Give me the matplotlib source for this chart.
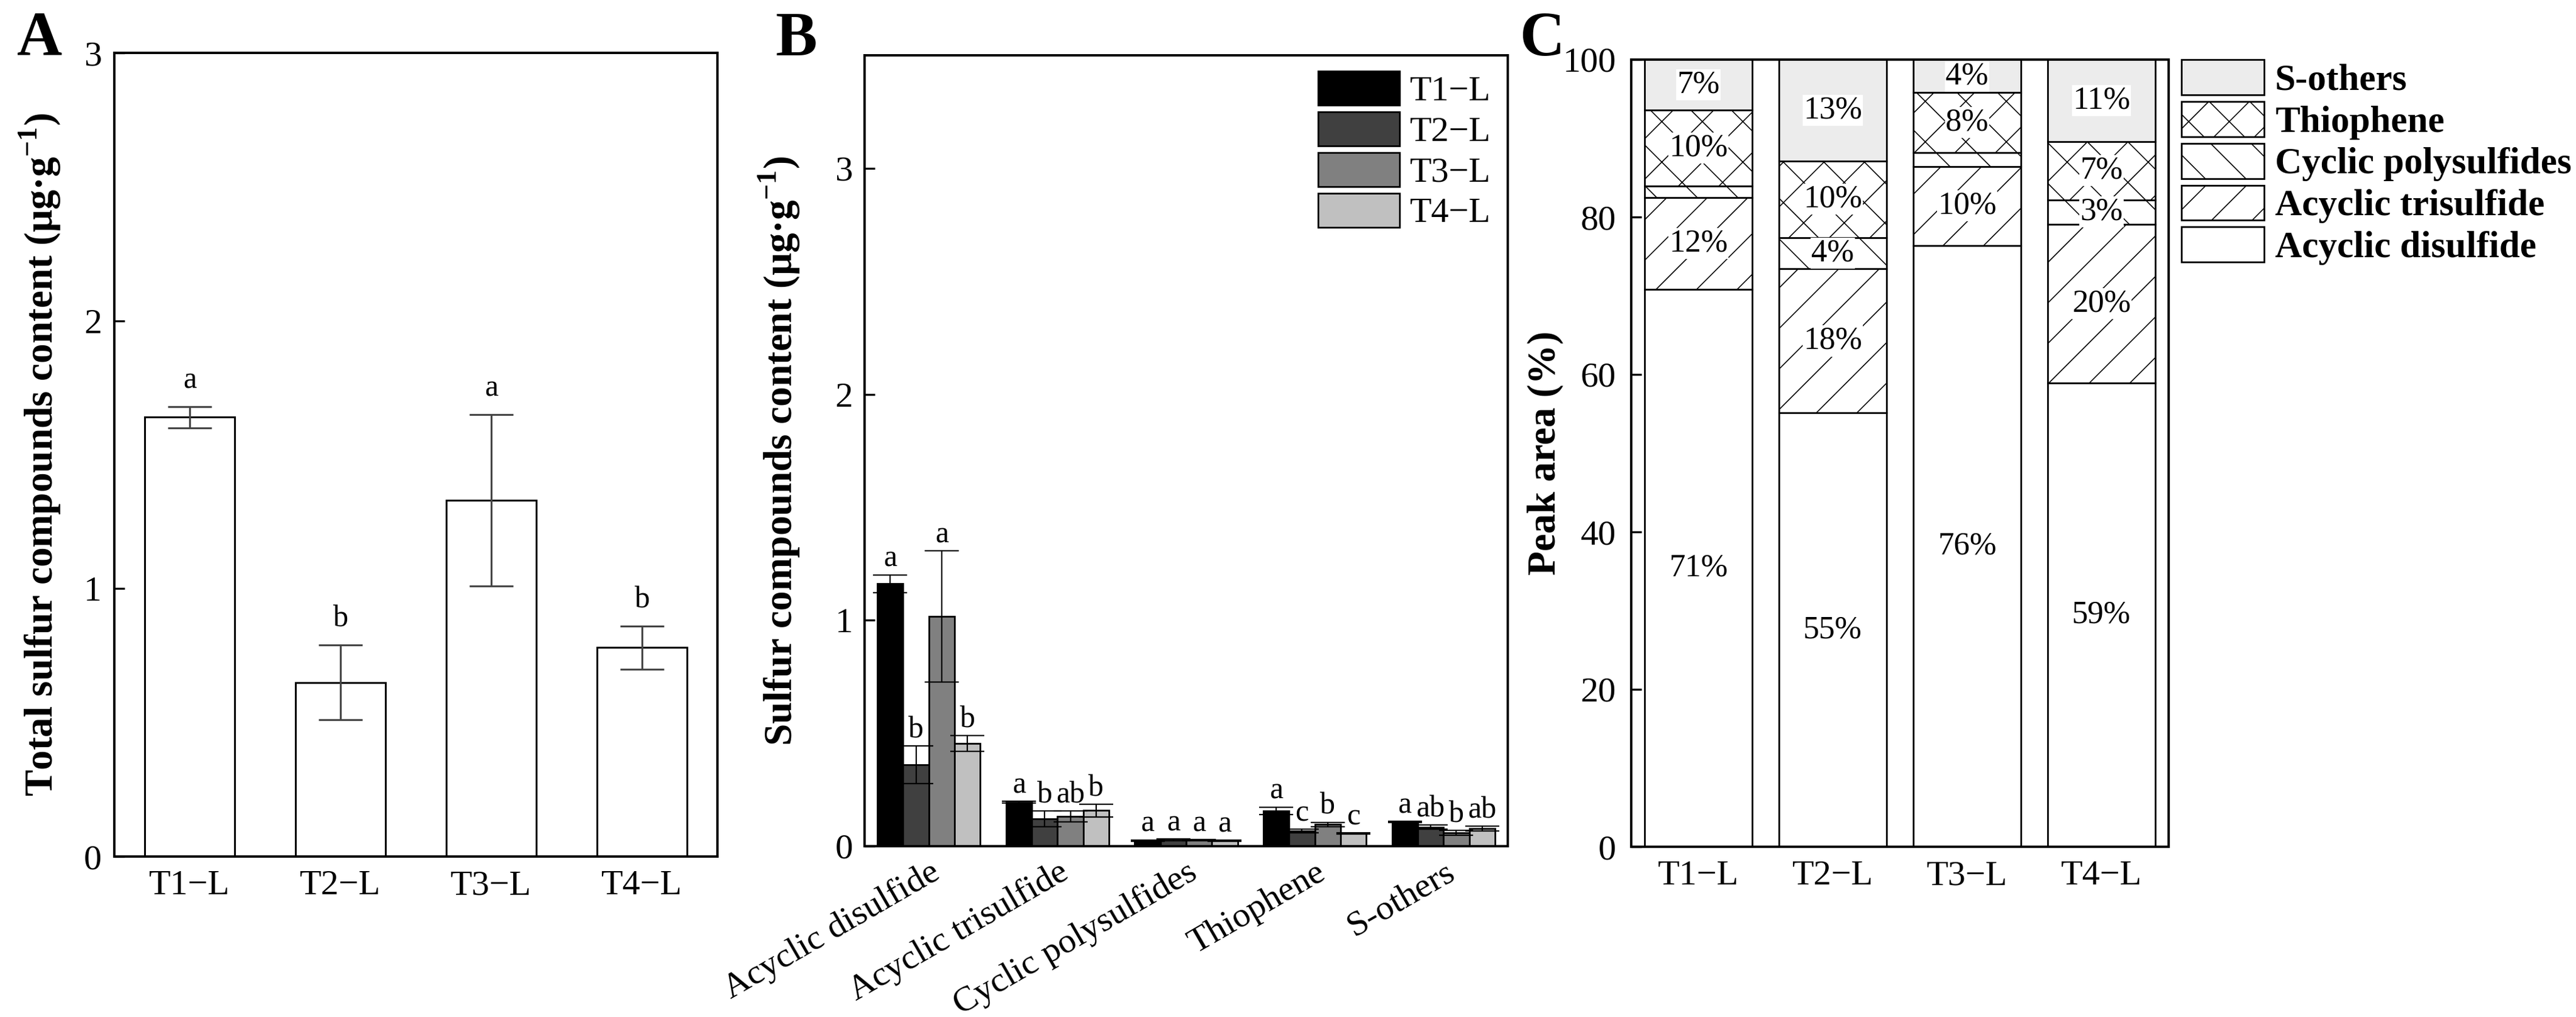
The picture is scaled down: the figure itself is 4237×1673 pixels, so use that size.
import matplotlib
matplotlib.use('Agg')
import matplotlib.pyplot as plt
import matplotlib.transforms as mtransforms
import numpy as np

plt.rcParams['font.family'] = ['Liberation Serif', 'DejaVu Serif']
plt.rcParams['mathtext.fontset'] = 'custom'
plt.rcParams['mathtext.rm'] = 'Liberation Serif'
plt.rcParams['mathtext.bf'] = 'Liberation Serif:bold'
plt.rcParams['hatch.linewidth'] = 0.6
plt.rcParams['axes.linewidth'] = 1.4

# --- dane ---
grupy = ['T1\u2212L', 'T2\u2212L', 'T3\u2212L', 'T4\u2212L']

# panel A: suma zwiazkow siarki
suma_srednia = [1.64, 0.65, 1.33, 0.78]
suma_blad = [0.04, 0.14, 0.32, 0.08]
suma_litery = ['a', 'b', 'a', 'b']

# panel B: poszczegolne grupy zwiazkow
zwiazki = ['Acyclic disulfide', 'Acyclic trisulfide', 'Cyclic polysulfides', 'Thiophene', 'S-others']
t1_srednia = [1.161, 0.194, 0.025, 0.156, 0.107]
t2_srednia = [0.360, 0.121, 0.028, 0.067, 0.084]
t3_srednia = [1.017, 0.132, 0.027, 0.096, 0.059]
t4_srednia = [0.455, 0.158, 0.024, 0.056, 0.078]
t1_blad = [0.040, 0.004, 0.003, 0.017, 0.003]
t2_blad = [0.083, 0.034, 0.003, 0.008, 0.010]
t3_blad = [0.290, 0.024, 0.003, 0.010, 0.010]
t4_blad = [0.035, 0.028, 0.003, 0.003, 0.010]
t1_litery = ['a', 'a', 'a', 'a', 'a']
t2_litery = ['b', 'b', 'a', 'c', 'ab']
t3_litery = ['a', 'ab', 'a', 'b', 'b']
t4_litery = ['b', 'b', 'a', 'c', 'ab']

# panel C: udzial powierzchni pikow (%)
disulfide_pct = [70.8, 55.1, 76.4, 58.9]
trisulfide_pct = [11.7, 18.3, 10.0, 20.2]
polysulfide_pct = [1.4, 4.0, 1.8, 3.1]
thiophene_pct = [9.7, 9.7, 7.6, 7.4]
others_pct = [6.4, 12.9, 4.2, 10.4]
disulfide_etyk = ['71%', '55%', '76%', '59%']
trisulfide_etyk = ['12%', '18%', '10%', '20%']
polysulfide_etyk = ['', '4%', '', '3%']
thiophene_etyk = ['10%', '10%', '8%', '7%']
others_etyk = ['7%', '13%', '4%', '11%']

W, H, DPI = 4237, 1673, 200
fig = plt.figure(figsize=(W / DPI, H / DPI), dpi=DPI)

ylabel_fs = 23.5
tick_fs = 21


def osie(ax):
    ax.tick_params(axis='y', direction='in', length=6, width=1.2, labelsize=tick_fs)
    ax.tick_params(axis='x', length=0, labelsize=tick_fs)


# ---------- A ----------
axA = fig.add_axes([188 / W, 1 - 1409 / H, (1180 - 188) / W, (1409 - 87) / H])
x = np.arange(len(grupy))
axA.bar(x, suma_srednia, 0.6, color='white', edgecolor='black', linewidth=1.1, zorder=2)
axA.errorbar(x, suma_srednia, yerr=suma_blad, fmt='none', ecolor='#444444',
             elinewidth=1.1, capsize=13, capthick=1.1, zorder=3)
for xi, m, e, l in zip(x, suma_srednia, suma_blad, suma_litery):
    axA.annotate(l, (xi, m + e), xytext=(0, 7), textcoords='offset points',
                 ha='center', va='bottom', fontsize=18)
axA.set_xlim(-0.5, 3.5)
axA.set_ylim(0, 3)
axA.set_yticks([0, 1, 2, 3])
axA.set_xticks(x)
axA.set_xticklabels(grupy)
osie(axA)
axA.tick_params(axis='y', pad=7.5)
axA.tick_params(axis='x', pad=8)
axA.set_ylabel(r'Total sulfur compounds content (μg·g$^{\mathbf{-1}}$)',
               fontsize=ylabel_fs, fontweight='bold')
axA.yaxis.set_label_coords(-0.085, 0.5)

# ---------- B ----------
axB = fig.add_axes([1422 / W, 1 - 1392 / H, (2480 - 1422) / W, (1392 - 91) / H])
xb = np.arange(len(zwiazki))
serie = [(t1_srednia, t1_blad, t1_litery, '#000000'),
         (t2_srednia, t2_blad, t2_litery, '#404040'),
         (t3_srednia, t3_blad, t3_litery, '#808080'),
         (t4_srednia, t4_blad, t4_litery, '#c0c0c0')]
szer = 0.2
for i, (sr, bl, lit, kolor) in enumerate(serie):
    pos = xb + (i - 1.5) * szer
    axB.bar(pos, sr, szer, color=kolor, edgecolor='black', linewidth=1.0,
            label=grupy[i], zorder=2)
    axB.errorbar(pos, sr, yerr=bl, fmt='none', ecolor='black',
                 elinewidth=0.8, capsize=10, capthick=0.8, zorder=3)
    for p, m, e, l in zip(pos, sr, bl, lit):
        axB.annotate(l, (p, m + e), xytext=(0, 1), textcoords='offset points',
                     ha='center', va='bottom', fontsize=18)
axB.set_xlim(-0.5, 4.5)
axB.set_ylim(0, 3.5)
axB.set_yticks([0, 1, 2, 3])
axB.set_xticks(xb)
axB.set_xticklabels(zwiazki, rotation=30, ha='right')
osie(axB)
axB.tick_params(axis='y', pad=7)
axB.tick_params(axis='x', pad=6)
przesun = mtransforms.ScaledTranslation(27 / DPI, 0, fig.dpi_scale_trans)
for lab in axB.get_xticklabels():
    lab.set_transform(lab.get_transform() + przesun)
axB.set_ylabel(r'Sulfur compounds content (μg·g$^{\mathbf{-1}}$)',
               fontsize=ylabel_fs, fontweight='bold')
axB.yaxis.set_label_coords(-0.096, 0.5)
axB.legend(loc='upper right', bbox_to_anchor=(0.9735, 0.98), frameon=False,
           borderpad=0, borderaxespad=0, handlelength=2.3, handleheight=1.1,
           labelspacing=0.12, handletextpad=0.28, fontsize=tick_fs)

# ---------- C ----------
axC = fig.add_axes([2683 / W, 1 - 1393 / H, (3567 - 2683) / W, (1393 - 98) / H])
xc = np.arange(len(grupy))
warstwy = [('Acyclic disulfide', disulfide_pct, disulfide_etyk, 'white', ''),
           ('Acyclic trisulfide', trisulfide_pct, trisulfide_etyk, 'white', '/'),
           ('Cyclic polysulfides', polysulfide_pct, polysulfide_etyk, 'white', '\\'),
           ('Thiophene', thiophene_pct, thiophene_etyk, 'white', 'x'),
           ('S-others', others_pct, others_etyk, '#ececec', '')]
dol = np.zeros(len(grupy))
uchwyty = []
for nazwa, wart, etyk, kolor, kresk in warstwy:
    wart = np.array(wart)
    b = axC.bar(xc, wart, 0.8, bottom=dol, color=kolor, edgecolor='black',
                linewidth=1.0, hatch=kresk, label=nazwa, zorder=2)
    uchwyty.append(b)
    for xi, d, v, t in zip(xc, dol, wart, etyk):
        if t:
            axC.text(xi, d + v / 2, t, ha='center', va='center', fontsize=19, zorder=4,
                     bbox=dict(facecolor='white', edgecolor='none', pad=0.5))
    dol = dol + wart
axC.set_xlim(-0.5, 3.5)
axC.set_ylim(0, 100)
axC.set_yticks([0, 20, 40, 60, 80, 100])
axC.set_xticks(xc)
axC.set_xticklabels(grupy)
osie(axC)
axC.tick_params(axis='y', pad=9)
axC.tick_params(axis='x', pad=8)
axC.set_ylabel('Peak area (%)', fontsize=ylabel_fs, fontweight='bold')
axC.yaxis.set_label_coords(-0.126, 0.5)
axC.legend(uchwyty[::-1], [w[0] for w in warstwy][::-1], loc='upper left',
           bbox_to_anchor=(1.024, 1.0), frameon=False, borderpad=0, borderaxespad=0,
           handlelength=2.23, handleheight=1.08, labelspacing=0.1, handletextpad=0.28,
           prop={'size': 22, 'weight': 'bold'})

# litery paneli
for litera, xl in [('A', 28), ('B', 1275), ('C', 2500)]:
    fig.text(xl / W, 1 - 91 / H, litera, fontsize=37, fontweight='bold', va='baseline')

fig.savefig('out.png', dpi=DPI)
